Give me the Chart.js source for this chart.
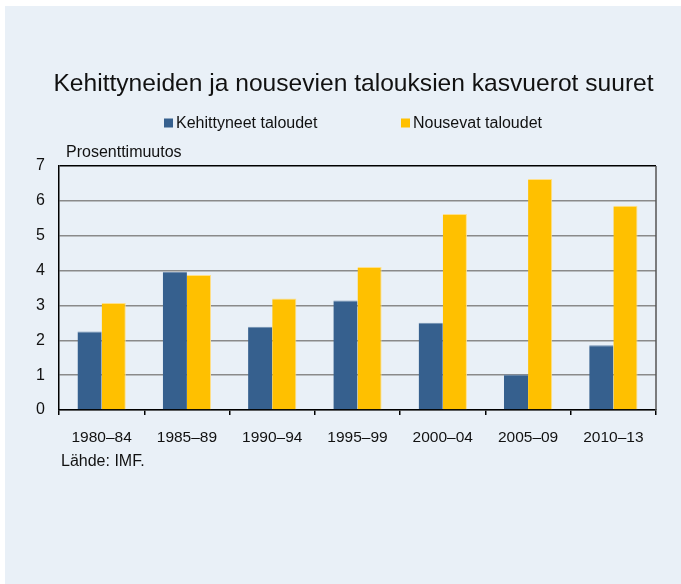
<!DOCTYPE html>
<html lang="fi">
  <head>
    <meta charset="UTF-8" />
    <title>Kehittyneiden ja nousevien talouksien kasvuerot suuret</title>
    <script src="https://cdn.jsdelivr.net/npm/chart.js"></script>
    <style>
      body {
        margin: 0;
        padding: 0;
        background: #ffffff;
      }
      .wrap {
        width: 681px;
        height: 584px;
        position: relative;
      }
    </style>
  </head>
  <body>
    <div class="wrap">
      <canvas id="growth-chart" width="681" height="584"></canvas>
    </div>

    <script>
      // data
      const periods = ["1980–84", "1985–89", "1990–94", "1995–99", "2000–04", "2005–09", "2010–13"];
      const developed = [2.25, 3.96, 2.39, 3.14, 2.5, 1.02, 1.86];
      const emerging = [3.07, 3.87, 3.2, 4.1, 5.62, 6.63, 5.86];
      const seriesNames = ["Kehittyneet taloudet", "Nousevat taloudet"];
      const seriesColors = ["#36608e", "#ffc000"];

      const titleText = "Kehittyneiden ja nousevien talouksien kasvuerot suuret";
      const unitText = "Prosenttimuutos";
      const sourceText = "Lähde: IMF.";
      const FONT = "'Liberation Sans', Arial, sans-serif";

      // panel background, title, legend, notes and the frame
      const decor = {
        id: "decor",
        beforeDraw(chart) {
          const c = chart.ctx;
          c.save();
          c.fillStyle = "#ffffff";
          c.fillRect(0, 0, chart.width, chart.height);
          c.fillStyle = "#e9f0f7";
          c.fillRect(5, 6, chart.width - 5, chart.height - 6);
          c.restore();
        },
        afterDraw(chart) {
          const c = chart.ctx;
          const a = chart.chartArea;
          c.save();
          c.fillStyle = "#111";
          c.textBaseline = "middle";

          // title
          c.font = "24.6px " + FONT;
          c.textAlign = "center";
          c.fillText(titleText, 353.5, 84);

          // legend
          c.font = "16px " + FONT;
          c.textAlign = "left";
          const legendX = [164, 401];
          seriesNames.forEach((name, i) => {
            c.fillStyle = seriesColors[i];
            c.fillRect(legendX[i], 118.5, 9, 9);
            c.fillStyle = "#111";
            c.fillText(name, legendX[i] + 12, 124);
          });

          // unit + source
          c.fillText(unitText, 66, 153);
          c.fillText(sourceText, 61, 462);

          // right frame line
          c.strokeStyle = "#555";
          c.lineWidth = 1.5;
          c.beginPath();
          c.moveTo(a.right, a.top);
          c.lineTo(a.right, a.bottom);
          c.stroke();
          c.restore();
        },
      };

      new Chart(document.getElementById("growth-chart"), {
        type: "bar",
        data: {
          labels: periods,
          datasets: [
            {
              label: seriesNames[0],
              data: developed,
              backgroundColor: seriesColors[0],
              borderColor: "#6f8db0",
              borderWidth: { top: 1, left: 0, right: 0, bottom: 0 },
              categoryPercentage: 0.566,
              barPercentage: 1.0,
            },
            {
              label: seriesNames[1],
              data: emerging,
              backgroundColor: seriesColors[1],
              borderColor: "#ffe08a",
              borderWidth: { top: 1, left: 0, right: 1, bottom: 0 },
              categoryPercentage: 0.566,
              barPercentage: 1.0,
            },
          ],
        },
        options: {
          responsive: false,
          animation: false,
          layout: { padding: { top: 166, left: 5, right: 25, bottom: 134 } },
          plugins: {
            legend: { display: false },
            title: { display: false },
            tooltip: { enabled: false },
          },
          scales: {
            x: {
              offset: true,
              grid: {
                offset: true,
                drawOnChartArea: false,
                drawTicks: true,
                tickLength: 5,
                color: "#000",
                lineWidth: 1.5,
              },
              border: { color: "#000", width: 1.5 },
              ticks: {
                color: "#111",
                font: { family: FONT, size: 15.5 },
                padding: 13,
                maxRotation: 0,
              },
              afterFit(scale) {
                scale.height = 40;
              },
            },
            y: {
              min: 0,
              max: 7,
              grid: {
                drawTicks: false,
                color: (ctx) => (ctx.tick && ctx.tick.value === 7 ? "#000" : "#8a8a8a"),
                lineWidth: 1.5,
              },
              border: { color: "#000", width: 1.5 },
              ticks: {
                stepSize: 1,
                color: "#111",
                font: { family: FONT, size: 16 },
                padding: 14,
              },
              afterFit(scale) {
                scale.width = 54;
              },
            },
          },
        },
        plugins: [decor],
      });
    </script>
  </body>
</html>
